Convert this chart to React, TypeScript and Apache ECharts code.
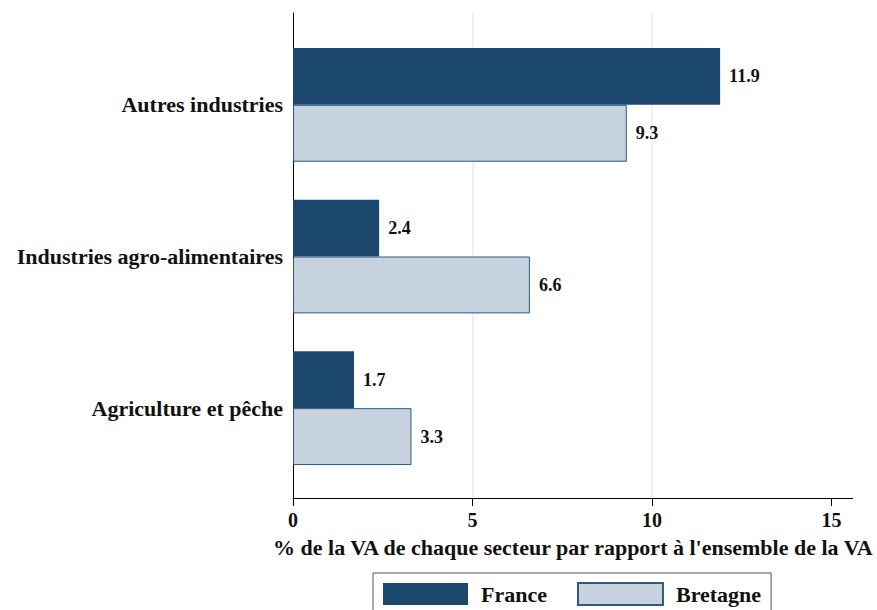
import React, { useEffect, useRef } from "react";
import * as echarts from "echarts";

const categories = ["Autres industries", "Industries agro-alimentaires", "Agriculture et pêche"];
const franceValues = [11.9, 2.4, 1.7];
const bretagneValues = [9.3, 6.6, 3.3];
const seriesNames = ["France", "Bretagne"];
const xTicks = [0, 5, 10, 15];
const axisTitle = "% de la VA de chaque secteur par rapport à l'ensemble de la VA";

const FONT = "'Liberation Serif', 'Times New Roman', serif";
const DARK = "#1c4870";
const LIGHT = "#c6d3df";
const GRID = "#e6edf2";
const XMAX = 15.63;

export default function App() {
  const ref = useRef<HTMLDivElement>(null);
  useEffect(() => {
    if (!ref.current) return;
    const chart = echarts.init(ref.current, null, { renderer: "svg" });
    const labelStyle = {
      show: true,
      position: "right",
      distance: 9,
      fontFamily: FONT,
      fontWeight: "bold",
      fontSize: 18,
      color: "#111",
      formatter: (p: any) => Number(p.value).toFixed(1),
    };
    chart.setOption({
      animation: false,
      textStyle: { fontFamily: FONT },
      grid: [
        { left: 293, right: 23, top: 29, bottom: 126 },
        { left: 293, right: 23, top: 13, bottom: 112 },
        { left: 293, right: 877 - 831.5, top: 13, bottom: 112 },
      ],
      legend: {
        data: seriesNames,
        left: 373,
        top: 573,
        orient: "horizontal",
        itemWidth: 85,
        itemHeight: 22,
        itemGap: 30,
        padding: [9, 10, 9, 10],
        borderColor: "#555",
        borderWidth: 1,
        icon: "rect",
        textStyle: {
          fontFamily: FONT,
          fontWeight: "bold",
          fontSize: 22,
          color: "#111",
          padding: [0, 0, 0, 8],
        },
      },
      xAxis: [
        {
          gridIndex: 0,
          type: "value",
          min: 0,
          max: XMAX,
          show: false,
        },
        {
          gridIndex: 1,
          type: "value",
          min: 0,
          max: XMAX,
          axisLine: { show: true, lineStyle: { color: "#000", width: 1 } },
          axisTick: { show: false },
          axisLabel: { show: false },
          splitLine: { show: false },
          name: axisTitle,
          nameLocation: "middle",
          nameGap: 38,
          nameTextStyle: { fontFamily: FONT, fontWeight: "bold", fontSize: 22, color: "#111" },
        },
        {
          gridIndex: 2,
          type: "value",
          min: xTicks[0],
          max: xTicks[xTicks.length - 1],
          interval: 5,
          axisLine: { show: false },
          axisTick: { show: true, length: 8, lineStyle: { color: "#000", width: 1 } },
          axisLabel: {
            show: true,
            margin: 12,
            fontFamily: FONT,
            fontWeight: "bold",
            fontSize: 20,
            color: "#111",
          },
          splitLine: { show: true, showMinLine: false, showMaxLine: false, lineStyle: { color: GRID, width: 1.5 } },
        },
      ],
      yAxis: [
        {
          gridIndex: 0,
          type: "category",
          data: categories,
          inverse: true,
          axisLine: { show: false },
          axisTick: { show: false },
          axisLabel: {
            margin: 10,
            fontFamily: FONT,
            fontWeight: "bold",
            fontSize: 22,
            color: "#111",
          },
        },
        {
          gridIndex: 1,
          type: "value",
          min: 0,
          max: 1,
          axisLine: { show: true, onZero: false, lineStyle: { color: "#000", width: 1 } },
          axisTick: { show: false },
          axisLabel: { show: false },
          splitLine: { show: false },
        },
        {
          gridIndex: 2,
          type: "value",
          min: 0,
          max: 1,
          show: false,
        },
      ],
      series: [
        {
          name: seriesNames[0],
          type: "bar",
          xAxisIndex: 0,
          yAxisIndex: 0,
          data: franceValues,
          barGap: "0%",
          barCategoryGap: "25%",
          itemStyle: { color: DARK },
          label: labelStyle,
        },
        {
          name: seriesNames[1],
          type: "bar",
          xAxisIndex: 0,
          yAxisIndex: 0,
          data: bretagneValues,
          barGap: "0%",
          barCategoryGap: "25%",
          itemStyle: { color: LIGHT, borderColor: "#2b5a85", borderWidth: 1 },
          label: labelStyle,
        },
      ],
    });
    return () => chart.dispose();
  }, []);
  return <div ref={ref} style={{ width: 877, height: 610, position: "absolute", left: 0, top: 0 }} />;
}
